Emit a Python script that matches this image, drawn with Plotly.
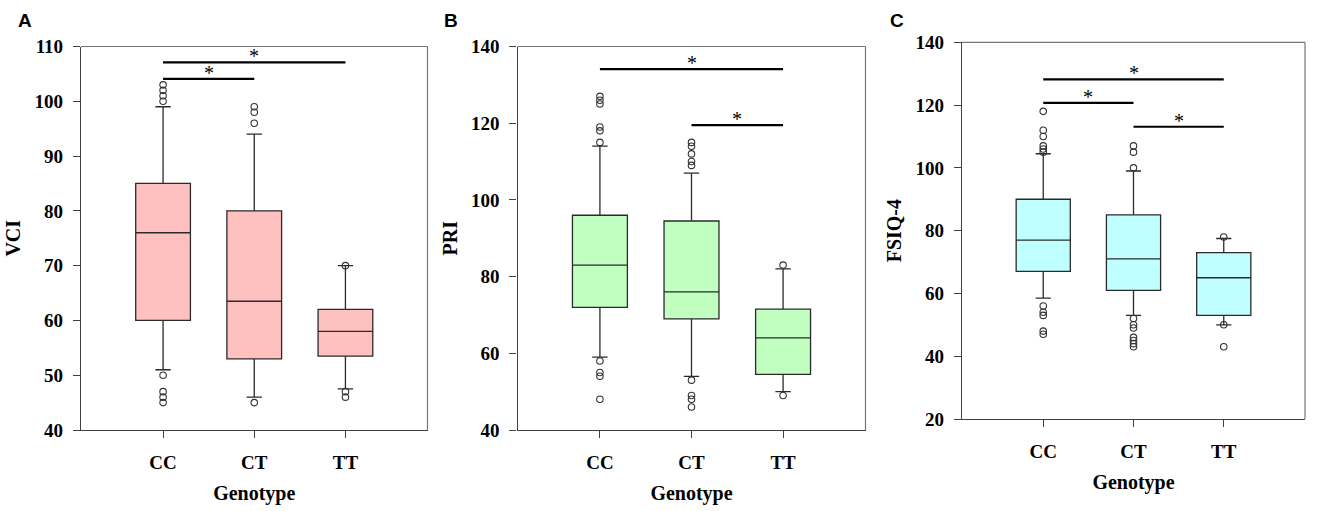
import plotly.graph_objects as go

genotypes = ["CC", "CT", "TT"]

# Panel A: VCI
vci_q1 = [60, 53, 53.5]
vci_median = [76, 63.5, 58]
vci_q3 = [85, 80, 62]
vci_low = [51, 46, 47.5]
vci_high = [99, 94, 70]
vci_out_cc = [100, 101, 102, 103, 50, 47, 46, 45]
vci_out_ct = [96, 98, 99, 45]
vci_out_tt = [70, 47, 46]

# Panel B: PRI
pri_q1 = [72, 69, 54.5]
pri_median = [83, 76, 64]
pri_q3 = [96, 94.5, 71.5]
pri_low = [59, 54, 50]
pri_high = [114, 107, 82]
pri_out_cc = [115, 118, 119, 125, 126, 127, 58, 55, 54, 48]
pri_out_ct = [109, 110, 112, 114, 115, 53, 49, 48, 46]
pri_out_tt = [83, 49]

# Panel C: FSIQ-4
fsiq_q1 = [67, 61, 53]
fsiq_median = [77, 71, 65]
fsiq_q3 = [90, 85, 73]
fsiq_low = [58.5, 53, 50]
fsiq_high = [104.5, 99, 77.5]
fsiq_out_cc = [105, 106, 107, 110, 112, 118, 56, 54, 53, 48, 47]
fsiq_out_ct = [100, 105, 107, 52, 50, 49, 46, 45, 44, 43]
fsiq_out_tt = [78, 50, 43]

# significance brackets: (from, to, y)
sig_a = [("CC", "CT", 104.1), ("CC", "TT", 107.1)]
sig_b = [("CC", "TT", 134.1), ("CT", "TT", 119.5)]
sig_c = [("CC", "TT", 128.2), ("CC", "CT", 120.7), ("CT", "TT", 113.1)]

panels = [
    dict(q1=vci_q1, med=vci_median, q3=vci_q3, lo=vci_low, hi=vci_high,
         outs=[vci_out_cc, vci_out_ct, vci_out_tt], sig=sig_a, fill="#FFC0C0",
         title="VCI", yr=[40, 110], dt=10,
         xd=[81 / 1325, 427.5 / 1325], yd=[1 - 430 / 511, 1 - 46.5 / 511]),
    dict(q1=pri_q1, med=pri_median, q3=pri_q3, lo=pri_low, hi=pri_high,
         outs=[pri_out_cc, pri_out_ct, pri_out_tt], sig=sig_b, fill="#C0FFC0",
         title="PRI", yr=[40, 140], dt=20,
         xd=[517.5 / 1325, 865.5 / 1325], yd=[1 - 430 / 511, 1 - 46.5 / 511]),
    dict(q1=fsiq_q1, med=fsiq_median, q3=fsiq_q3, lo=fsiq_low, hi=fsiq_high,
         outs=[fsiq_out_cc, fsiq_out_ct, fsiq_out_tt], sig=sig_c, fill="#C0FFFF",
         title="FSIQ-4", yr=[20, 140], dt=20,
         xd=[962 / 1325, 1305 / 1325], yd=[1 - 419 / 511, 1 - 42.3 / 511]),
]

SERIF = "Liberation Serif"
fig = go.Figure()
annotations = []
shapes = []

for i, p in enumerate(panels):
    n = "" if i == 0 else str(i + 1)
    xa, ya = "x" + n, "y" + n
    fig.add_trace(go.Box(
        x=genotypes, q1=p["q1"], median=p["med"], q3=p["q3"],
        lowerfence=p["lo"], upperfence=p["hi"], boxpoints=False,
        width=0.6, whiskerwidth=0.28, fillcolor=p["fill"],
        line=dict(color="#2a2a2a", width=1.3), xaxis=xa, yaxis=ya,
        showlegend=False, hoverinfo="skip"))
    for g, vals in zip(genotypes, p["outs"]):
        fig.add_trace(go.Scatter(
            x=[g] * len(vals), y=vals, mode="markers",
            marker=dict(symbol="circle-open", size=6.5, color="#333333",
                        line=dict(width=1.1, color="#333333")),
            xaxis=xa, yaxis=ya, showlegend=False, hoverinfo="skip"))
    for a, b, yv in p["sig"]:
        fig.add_trace(go.Scatter(
            x=[a, b], y=[yv, yv], mode="lines",
            line=dict(color="black", width=2.2),
            xaxis=xa, yaxis=ya, showlegend=False, hoverinfo="skip"))
        ia, ib = genotypes.index(a), genotypes.index(b)
        annotations.append(dict(
            x=(ia + ib) / 2, y=yv, xref=xa, yref=ya, text="*",
            showarrow=False, yanchor="bottom", yshift=-7,
            font=dict(family=SERIF, size=20, color="black")))

    axis_common = dict(showline=True, linecolor="#404040", linewidth=1.2,
                       ticks="outside", ticklen=7, tickcolor="#404040",
                       showgrid=False, zeroline=False, automargin=False,
                       tickfont=dict(family=SERIF, size=19, color="black",
                                     weight="bold"))
    fig.layout["xaxis" + n] = dict(
        domain=p["xd"], anchor=ya, type="category",
        categoryorder="array", categoryarray=genotypes,
        range=[-0.9, 2.9], ticklabelstandoff=8,
        title=dict(text="Genotype", standoff=14,
                   font=dict(family=SERIF, size=20, color="black",
                             weight="bold")),
        **axis_common)
    fig.layout["yaxis" + n] = dict(
        domain=p["yd"], anchor=xa, range=p["yr"], ticklabelstandoff=6,
        tickvals=list(range(p["yr"][0], p["yr"][1] + 1, p["dt"])),
        title=dict(text=p["title"], standoff=8,
                   font=dict(family=SERIF, size=20, color="black",
                             weight="bold")),
        **axis_common)
    # lighter top and right frame lines
    dom_x = xa + " domain"
    dom_y = ya + " domain"
    shapes.append(dict(type="line", xref=dom_x, yref=dom_y, x0=0, x1=1,
                       y0=1, y1=1, line=dict(color="#777777", width=1.2)))
    shapes.append(dict(type="line", xref=dom_x, yref=dom_y, x0=1, x1=1,
                       y0=0, y1=1, line=dict(color="#777777", width=1.2)))

letters = [("A", 25 / 1325), ("B", 451 / 1325), ("C", 897 / 1325)]
for t, xp in letters:
    annotations.append(dict(
        x=xp, y=1 - 21 / 511, xref="paper", yref="paper", text=t,
        showarrow=False, xanchor="center", yanchor="middle",
        font=dict(family="Liberation Sans", size=19, color="black",
                  weight="bold")))

fig.update_layout(
    width=1325, height=511, margin=dict(l=0, r=0, t=0, b=0),
    paper_bgcolor="white", plot_bgcolor="white",
    annotations=annotations, shapes=shapes)

fig.write_html("out.html",
               config={"displayModeBar": False},
               post_script="document.body.style.margin='0';"
                           "document.body.style.overflow='hidden';")
